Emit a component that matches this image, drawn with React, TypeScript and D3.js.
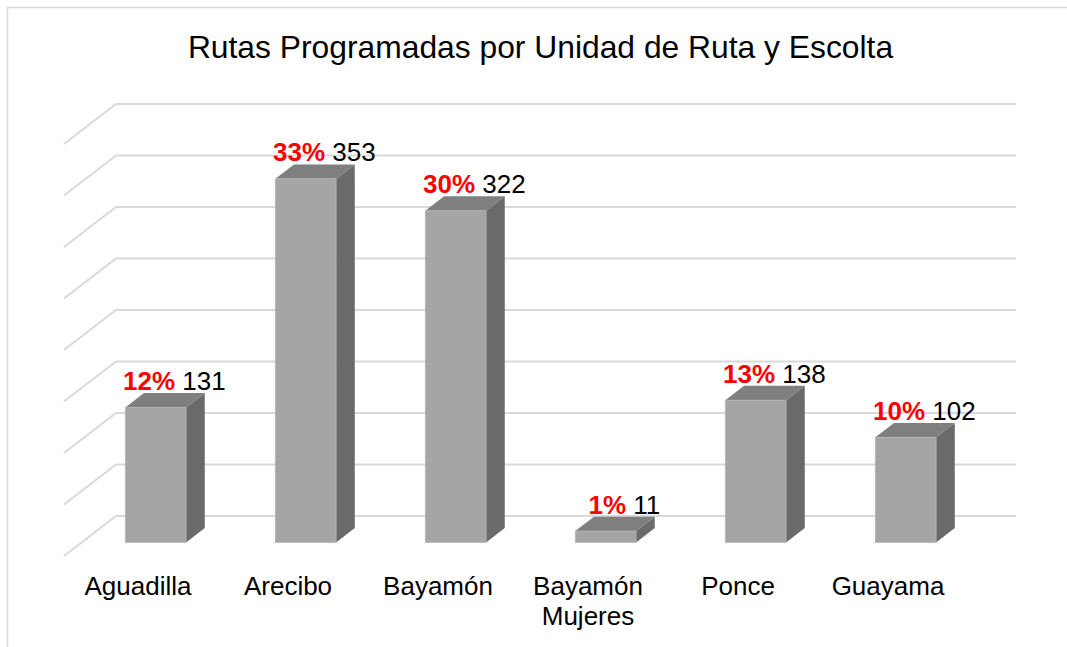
import React from 'react';
import * as d3 from 'd3';

const categories = ['Aguadilla', 'Arecibo', 'Bayamón', 'Bayamón\nMujeres', 'Ponce', 'Guayama'];
const rutas = [131, 353, 322, 11, 138, 102];
const porcentajes = ['12%', '33%', '30%', '1%', '13%', '10%'];
const gridValues = [0, 50, 100, 150, 200, 250, 300, 350, 400];

const width = 1067;
const height = 647;
// depth vector of the 3D floor (back wall -> front edge)
const depth = { dx: -52, dy: 40 };
const barFront = 0.66;
const barBack = 0.3;

const x = d3.scaleBand().domain(categories).range([115, 1015]);
const y = d3.scaleLinear().domain([0, 400]).range([516, 104]);

const font = '"Liberation Sans", Arial, sans-serif';

export default function App() {
  const barW = x.bandwidth() * 0.405;
  return (
    <svg width={width} height={height} style={{ position: 'absolute', left: 0, top: 0, background: '#fff' }}>
      <rect x={7.5} y={7.5} width={1100} height={700} fill="#fff" stroke="#d9d9d9" strokeWidth={1.5} />
      <text x={540.5} y={58} textAnchor="middle" fontFamily={font} fontSize={31.8} fill="#000">
        Rutas Programadas por Unidad de Ruta y Escolta
      </text>

      {gridValues.map((v) => {
        const yy = y(v);
        return (
          <path key={v}
            d={`M${x.range()[1] + 1},${yy}L${x.range()[0] + 1},${yy}L${x.range()[0] + 1 + depth.dx},${yy + depth.dy}`}
            fill="none" stroke="#d9d9d9" strokeWidth={2} />
        );
      })}

      {categories.map((c, i) => {
        const cx = x(c)! + x.bandwidth() / 2;
        const fx = cx + depth.dx * barFront - barW / 2;
        const bx = cx + depth.dx * barBack - barW / 2;
        const fy0 = y(0) + depth.dy * barFront;
        const fy1 = y(rutas[i]) + depth.dy * barFront;
        const by0 = y(0) + depth.dy * barBack;
        const by1 = y(rutas[i]) + depth.dy * barBack;
        const top = `M${fx},${fy1}L${bx},${by1}L${bx + barW},${by1}L${fx + barW},${fy1}Z`;
        const side = `M${fx + barW},${fy1}L${bx + barW},${by1}L${bx + barW},${by0}L${fx + barW},${fy0}Z`;
        const lx = bx + barW / 2;
        return (
          <g key={c}>
            <path d={side} fill="#6a6a6a" />
            <path d={top} fill="#7f7f7f" />
            <rect x={fx} y={fy1} width={barW} height={fy0 - fy1} fill="#a5a5a5" stroke="#b4b4b4" strokeWidth={0.8} />
            <text x={lx} y={by1 - 3} textAnchor="middle" fontFamily={font} fontSize={26}>
              <tspan fill="#ff0000" fontWeight="bold">{porcentajes[i]}</tspan>
              <tspan fill="#000"> {rutas[i]}</tspan>
            </text>
          </g>
        );
      })}

      {categories.map((c) => {
        const cx = x(c)! + x.bandwidth() / 2 + depth.dx;
        return (
          <text key={c} x={cx} y={595} textAnchor="middle" fontFamily={font} fontSize={26} fill="#000">
            {c.split('\n').map((line, j) => (
              <tspan key={j} x={cx} dy={j === 0 ? 0 : 30}>{line}</tspan>
            ))}
          </text>
        );
      })}
    </svg>
  );
}
